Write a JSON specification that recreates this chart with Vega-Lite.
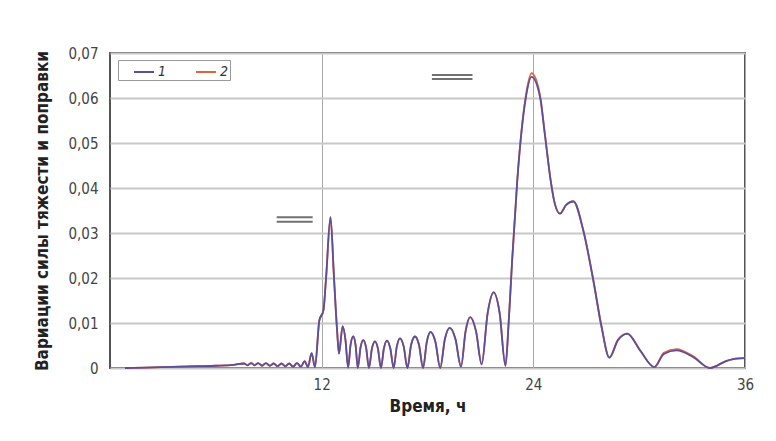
{
  "$schema": "https://vega.github.io/schema/vega-lite/v6.json",
  "width": 635,
  "height": 315,
  "autosize": {"type": "none"},
  "padding": {"left": 110, "top": 53, "right": 31, "bottom": 73},
  "background": "white",
  "config": {
    "view": {"stroke": "#555555", "strokeWidth": 2},
    "font": "DejaVu Sans Condensed"
  },
  "layer": [
    {
      "data": {
        "values": [
          {"t": 0.85, "s1": 0, "s2": 0},
          {"t": 2, "s1": 0.0001, "s2": 0.0001},
          {"t": 3, "s1": 0.0002, "s2": 0.0002},
          {"t": 4, "s1": 0.0003, "s2": 0.0003},
          {"t": 5, "s1": 0.0004, "s2": 0.0004},
          {"t": 6, "s1": 0.0005, "s2": 0.0005},
          {"t": 7, "s1": 0.0007, "s2": 0.0007},
          {"t": 7.6, "s1": 0.001, "s2": 0.001},
          {"t": 7.8, "s1": 0.0006, "s2": 0.0006},
          {"t": 8.0, "s1": 0.0011, "s2": 0.0011},
          {"t": 8.2, "s1": 0.0006, "s2": 0.0006},
          {"t": 8.4, "s1": 0.0011, "s2": 0.0011},
          {"t": 8.62, "s1": 0.0005, "s2": 0.0005},
          {"t": 8.84, "s1": 0.0011, "s2": 0.0011},
          {"t": 9.06, "s1": 0.0005, "s2": 0.0005},
          {"t": 9.28, "s1": 0.001, "s2": 0.001},
          {"t": 9.5, "s1": 0.0004, "s2": 0.0004},
          {"t": 9.72, "s1": 0.001, "s2": 0.001},
          {"t": 9.94, "s1": 0.0004, "s2": 0.0004},
          {"t": 10.16, "s1": 0.001, "s2": 0.001},
          {"t": 10.38, "s1": 0.0003, "s2": 0.0003},
          {"t": 10.6, "s1": 0.0011, "s2": 0.0011},
          {"t": 10.82, "s1": 0.0003, "s2": 0.0003},
          {"t": 11.04, "s1": 0.0015, "s2": 0.0015},
          {"t": 11.22, "s1": 0.0002, "s2": 0.0002},
          {"t": 11.43, "s1": 0.0033, "s2": 0.0033},
          {"t": 11.62, "s1": 0.0002, "s2": 0.0002},
          {"t": 11.87, "s1": 0.0106, "s2": 0.0106},
          {"t": 12.1, "s1": 0.0128, "s2": 0.0128},
          {"t": 12.25, "s1": 0.02, "s2": 0.02},
          {"t": 12.5, "s1": 0.0335, "s2": 0.0335},
          {"t": 12.7, "s1": 0.02, "s2": 0.02},
          {"t": 12.88, "s1": 0.008, "s2": 0.008},
          {"t": 12.98, "s1": 0.0032, "s2": 0.0032},
          {"t": 13.19, "s1": 0.0093, "s2": 0.0093},
          {"t": 13.35, "s1": 0.0062, "s2": 0.0062},
          {"t": 13.5, "s1": 0.0001, "s2": 0.0001},
          {"t": 13.64, "s1": 0.0052, "s2": 0.0052},
          {"t": 13.79, "s1": 0.007, "s2": 0.007},
          {"t": 13.92, "s1": 0.0052, "s2": 0.0052},
          {"t": 14.05, "s1": 0, "s2": 0},
          {"t": 14.2, "s1": 0.0045, "s2": 0.0045},
          {"t": 14.36, "s1": 0.0062, "s2": 0.0062},
          {"t": 14.52, "s1": 0.0045, "s2": 0.0045},
          {"t": 14.68, "s1": 0, "s2": 0},
          {"t": 14.85, "s1": 0.0043, "s2": 0.0043},
          {"t": 15.02, "s1": 0.0059, "s2": 0.0059},
          {"t": 15.19, "s1": 0.0043, "s2": 0.0043},
          {"t": 15.36, "s1": 0, "s2": 0},
          {"t": 15.53, "s1": 0.0044, "s2": 0.0044},
          {"t": 15.7, "s1": 0.0061, "s2": 0.0061},
          {"t": 15.89, "s1": 0.0044, "s2": 0.0044},
          {"t": 16.08, "s1": 0, "s2": 0},
          {"t": 16.26, "s1": 0.0048, "s2": 0.0048},
          {"t": 16.44, "s1": 0.0066, "s2": 0.0066},
          {"t": 16.65, "s1": 0.0048, "s2": 0.0048},
          {"t": 16.86, "s1": 0, "s2": 0},
          {"t": 17.07, "s1": 0.0051, "s2": 0.0051},
          {"t": 17.29, "s1": 0.007, "s2": 0.007},
          {"t": 17.52, "s1": 0.0051, "s2": 0.0051},
          {"t": 17.75, "s1": 0, "s2": 0},
          {"t": 17.96, "s1": 0.0058, "s2": 0.0058},
          {"t": 18.17, "s1": 0.008, "s2": 0.008},
          {"t": 18.45, "s1": 0.0058, "s2": 0.0058},
          {"t": 18.72, "s1": 0, "s2": 0},
          {"t": 18.99, "s1": 0.0065, "s2": 0.0065},
          {"t": 19.26, "s1": 0.0089, "s2": 0.0089},
          {"t": 19.58, "s1": 0.0065, "s2": 0.0065},
          {"t": 19.9, "s1": 0.0003, "s2": 0.0003},
          {"t": 20.16, "s1": 0.0082, "s2": 0.0082},
          {"t": 20.42, "s1": 0.0113, "s2": 0.0113},
          {"t": 20.75, "s1": 0.0082, "s2": 0.0082},
          {"t": 21.07, "s1": 0.0008, "s2": 0.0008},
          {"t": 21.41, "s1": 0.0122, "s2": 0.0122},
          {"t": 21.75, "s1": 0.0168, "s2": 0.0168},
          {"t": 22.09, "s1": 0.0122, "s2": 0.0122},
          {"t": 22.42, "s1": 0.0005, "s2": 0.0005},
          {"t": 22.6, "s1": 0.01, "s2": 0.01},
          {"t": 22.8, "s1": 0.024, "s2": 0.024},
          {"t": 23.09, "s1": 0.0417, "s2": 0.0418},
          {"t": 23.58, "s1": 0.0602, "s2": 0.0606},
          {"t": 23.9, "s1": 0.0647, "s2": 0.0655},
          {"t": 24.38, "s1": 0.0602, "s2": 0.0606},
          {"t": 24.65, "s1": 0.052, "s2": 0.0522},
          {"t": 24.98, "s1": 0.0417, "s2": 0.0418},
          {"t": 25.2, "s1": 0.0368, "s2": 0.0368},
          {"t": 25.51, "s1": 0.0343, "s2": 0.0343},
          {"t": 25.85, "s1": 0.0362, "s2": 0.0362},
          {"t": 26.27, "s1": 0.037, "s2": 0.0371},
          {"t": 26.83, "s1": 0.0306, "s2": 0.0306},
          {"t": 27.4, "s1": 0.0195, "s2": 0.0195},
          {"t": 27.87, "s1": 0.0091, "s2": 0.0091},
          {"t": 28.31, "s1": 0.0023, "s2": 0.0023},
          {"t": 28.8, "s1": 0.0062, "s2": 0.0063},
          {"t": 29.33, "s1": 0.0076, "s2": 0.0077},
          {"t": 30.05, "s1": 0.0039, "s2": 0.004},
          {"t": 30.86, "s1": 0.0002, "s2": 0.0002},
          {"t": 31.4, "s1": 0.0031, "s2": 0.0034},
          {"t": 32.12, "s1": 0.0039, "s2": 0.0042},
          {"t": 33.07, "s1": 0.0024, "s2": 0.0026},
          {"t": 34.01, "s1": 0, "s2": 0},
          {"t": 34.96, "s1": 0.0016, "s2": 0.0016},
          {"t": 35.5, "s1": 0.0021, "s2": 0.0021},
          {"t": 36, "s1": 0.0022, "s2": 0.0022}
        ]
      },
      "transform": [{"fold": ["s2", "s1"], "as": ["series", "value"]}],
      "mark": {"type": "line", "interpolate": "monotone", "strokeWidth": 1.8},
      "encoding": {
        "x": {
          "field": "t",
          "type": "quantitative",
          "scale": {"domain": [0, 36], "nice": false},
          "axis": {
            "values": [12, 24, 36],
            "title": "Время, ч",
            "titleFontSize": 17,
            "titleFontWeight": "bold",
            "titleColor": "#222222",
            "titlePadding": 6,
            "labelFontSize": 15,
            "labelColor": "#444444",
            "labelPadding": 9,
            "labelFlush": false,
            "ticks": false,
            "domain": false,
            "grid": true,
            "gridColor": "#a8a8a8",
            "gridWidth": 1
          }
        },
        "y": {
          "field": "value",
          "type": "quantitative",
          "scale": {"domain": [0, 0.07], "nice": false},
          "axis": {
            "values": [0, 0.01, 0.02, 0.03, 0.04, 0.05, 0.06, 0.07],
            "labelExpr": "datum.value == 0 ? '0' : replace(format(datum.value, '.2f'), '.', ',')",
            "title": "Вариации силы тяжести и поправки",
            "titleFontSize": 17,
            "titleFontWeight": "bold",
            "titleColor": "#222222",
            "titleX": -68,
            "titleBaseline": "middle",
            "labelFontSize": 15,
            "labelColor": "#444444",
            "labelPadding": 12,
            "ticks": false,
            "domain": false,
            "grid": true,
            "gridColor": "#c8c8c8",
            "gridWidth": 2
          }
        },
        "color": {
          "field": "series",
          "type": "nominal",
          "scale": {"domain": ["s1", "s2"], "range": ["#5b4f9c", "#e2633f"]},
          "legend": {
            "orient": "none",
            "legendX": 8,
            "legendY": 7,
            "direction": "horizontal",
            "columns": 2,
            "title": null,
            "symbolType": "stroke",
            "symbolSize": 400,
            "symbolStrokeWidth": 2,
            "symbolOffset": 14,
            "labelFontStyle": "italic",
            "labelFontSize": 14,
            "labelColor": "#333333",
            "labelOffset": 3,
            "labelExpr": "datum.label == 's1' ? '1' : '2\u00a0\u00a0\u00a0'",
            "strokeColor": "#999999",
            "fillColor": "#ffffff",
            "padding": 1,
            "columnPadding": 14
          }
        }
      }
    },
    {
      "data": {
        "values": [
          {"x1": 9.45, "x2": 11.49, "y": 0.0335},
          {"x1": 9.45, "x2": 11.49, "y": 0.0325},
          {"x1": 18.25, "x2": 20.55, "y": 0.0651},
          {"x1": 18.25, "x2": 20.55, "y": 0.0642}
        ]
      },
      "mark": {"type": "rule", "color": "#707070", "strokeWidth": 2},
      "encoding": {
        "x": {"field": "x1", "type": "quantitative"},
        "x2": {"field": "x2"},
        "y": {"field": "y", "type": "quantitative"}
      }
    }
  ]
}
